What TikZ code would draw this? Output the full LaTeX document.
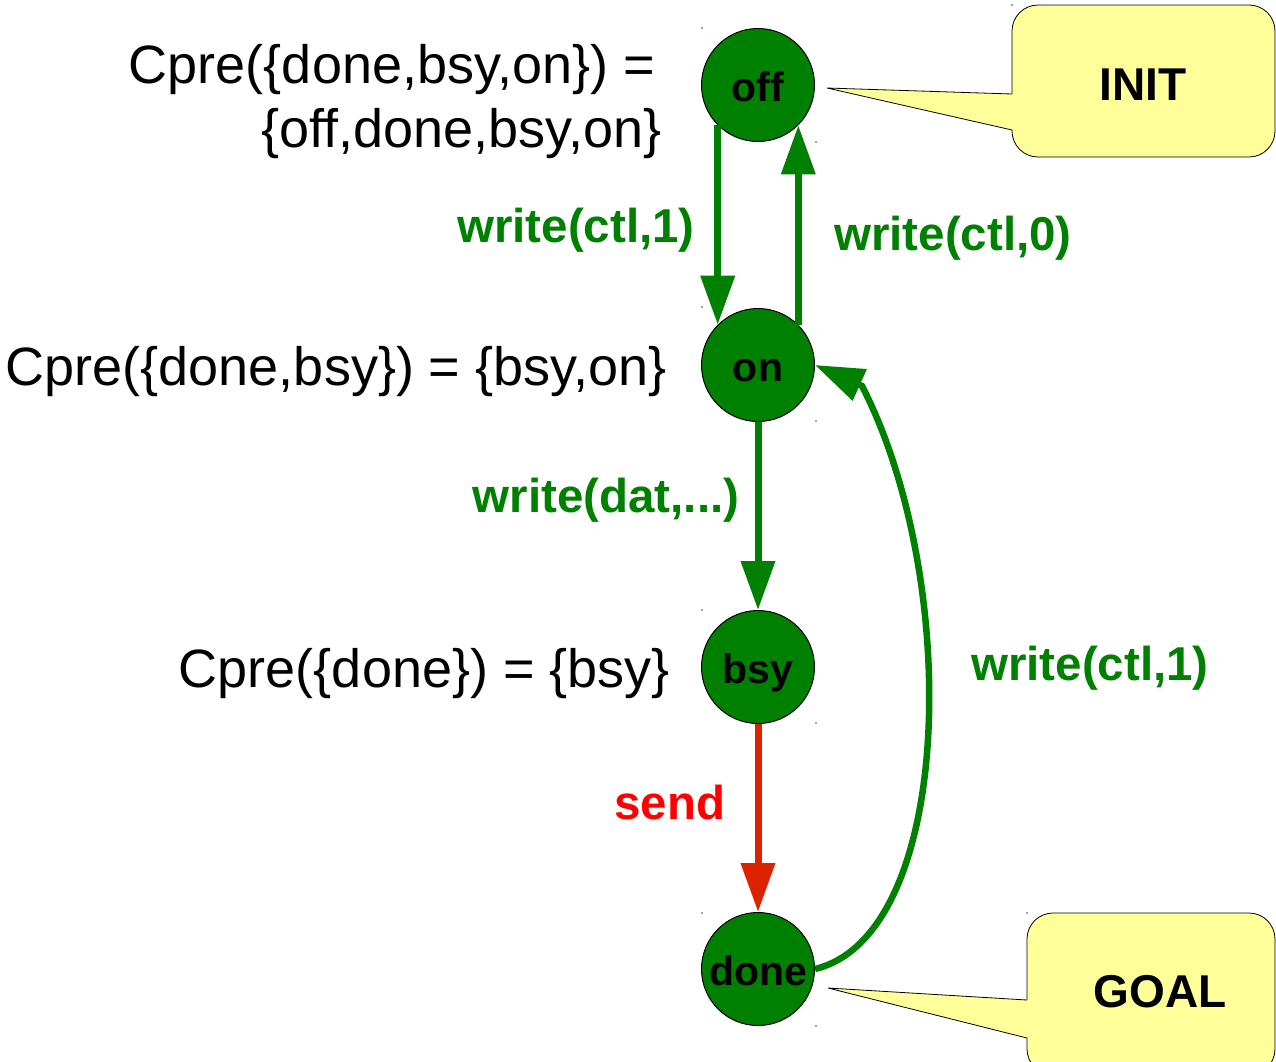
\documentclass[tikz,border=0pt]{standalone}
\usepackage{fontspec}
\setmainfont{Liberation Sans}
\usetikzlibrary{arrows.meta}
\definecolor{stategreen}{RGB}{0,128,0}
\definecolor{sendred}{RGB}{221,34,0}
\definecolor{notefill}{RGB}{255,255,153}

\begin{document}
\begin{tikzpicture}[x=1pt,y=-1pt,
  state/.style={circle, draw=black, line width=1pt, fill=stategreen,
    minimum size=113pt, inner sep=0pt, text height=32pt, text depth=0pt,
    font=\fontsize{41}{41}\selectfont\bfseries},
  cpre/.style={font=\fontsize{54}{63}\selectfont, inner sep=0pt, anchor=base east},
  act/.style={font=\fontsize{47.5}{47.5}\selectfont\bfseries, text=stategreen, inner sep=0pt},
  trans/.style={draw=stategreen, line width=7pt, -{Triangle[length=49pt,width=33pt]}},
  note/.style={draw=black, line width=0.8pt, fill=notefill},
  notetext/.style={font=\fontsize{46}{46}\selectfont\bfseries, inner sep=0pt},
  handle/.style={fill=gray!70, draw=none}
]
% canvas
\useasboundingbox (0,0) rectangle (1276,1061);
\fill[white] (0,0) rectangle (1276,1061);

% states
\node[state] (off)  at (758,85)  {off};
\node[state] (on)   at (758,365) {on};
\node[state] (bsy)  at (758,667) {bsy};
\node[state] (done) at (758,969) {done};

% transitions
\draw[trans] (off.-135) -- (on.135);
\draw[trans] (on.45) -- (off.-45);
\draw[trans] (on.south) -- (bsy.north);
\draw[trans, draw=sendred] (bsy.south) -- (done.north);
\coordinate (hook) at (862,386);
\draw[trans, line width=6.5pt] (done.east) .. controls (955,935) and (961,578) .. (hook) -- (on.east);

% transition labels
\node[act] (l1) at (576,230) {write(ctl,1)};
\node[act] (l2) at (953,238) {write(ctl,0)};
\node[act] (l3) at (606,500) {write(dat,...)};
\node[act] (l4) at (1090,668) {write(ctl,1)};
\node[act, text=red] (l5) at (670,803) {send};

% controllable predecessors
\node[cpre] (c1a) at (655,83)  {Cpre(\{done,bsy,on\}) =};
\node[cpre] (c1b) at (662,147) {\{off,done,bsy,on\}};
\node[cpre] (c2)  at (667,385) {Cpre(\{done,bsy\}) = \{bsy,on\}};
\node[cpre] (c3)  at (670,687) {Cpre(\{done\}) = \{bsy\}};

% INIT callout
\path[note, rounded corners=26pt] (1012,5) rectangle (1275,157);
\fill[notefill] (1013.5,94) -- (827,88) -- (1013.5,130) -- cycle;
\draw[line width=0.8pt] (1012,94) -- (827,88) -- (1012,130);
\node[notetext] (init) at (1143,85) {INIT};

% GOAL callout
\path[note, rounded corners=26pt] (1027,913) rectangle (1275,1075);
\fill[notefill] (1028.5,1000) -- (828,988) -- (1028.5,1038) -- cycle;
\draw[line width=0.8pt] (1027,1000) -- (828,988) -- (1027,1038);
\node[notetext] (goal) at (1160,992) {GOAL};

% selection handles
\foreach \p in {(702,28),(816,142),(702,307),(816,421),(702,610),(816,723),(702,913),(816,1026),(1012,5),(1027,913)}
  \fill[handle] \p ++(-1,-1) rectangle ++(2,2);
\end{tikzpicture}
\end{document}
